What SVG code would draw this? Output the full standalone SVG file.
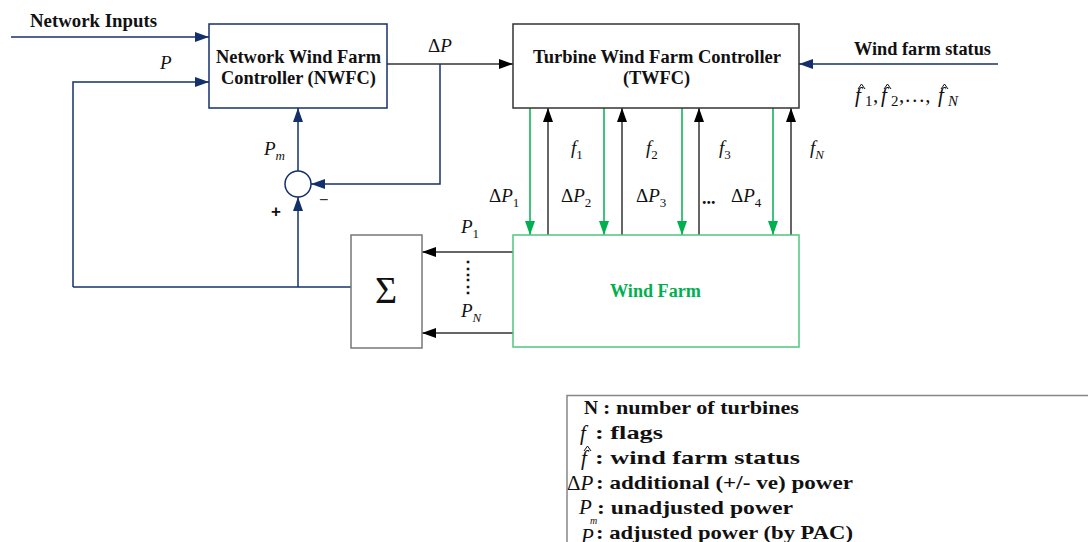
<svg xmlns="http://www.w3.org/2000/svg" width="1088" height="542" viewBox="0 0 1088 542">
<defs>
<style>
.b{font-family:"Liberation Serif",serif;font-weight:bold;font-size:18px;fill:#111}
.m{font-family:"Liberation Serif",serif;font-style:italic;font-size:19px;fill:#111}
.s{font-size:13px;font-style:normal}
.si{font-size:13px;font-style:italic}
.lg{font-family:"Liberation Serif",serif;font-weight:bold;font-size:19.5px;fill:#111}
.nv{stroke:#14306b;stroke-width:1.5;fill:none}
.bk{stroke:#333;stroke-width:1.5;fill:none}
.gr{stroke:#00b050;stroke-width:1.5;fill:none}
.hat{stroke:#111;stroke-width:1;fill:none}
</style>
<marker id="an" markerWidth="14" markerHeight="10" refX="14" refY="5" orient="auto" markerUnits="userSpaceOnUse"><path d="M0,0L14,5L0,10z" fill="#14306b"/></marker>
<marker id="ab" markerWidth="14" markerHeight="10" refX="14" refY="5" orient="auto" markerUnits="userSpaceOnUse"><path d="M0,0L14,5L0,10z" fill="#000"/></marker>
<marker id="ag" markerWidth="14" markerHeight="10" refX="14" refY="5" orient="auto" markerUnits="userSpaceOnUse"><path d="M0,0L14,5L0,10z" fill="#00b050"/></marker>
</defs>
<rect width="1088" height="542" fill="#fff"/>

<g id="connectors">
<path class="nv" d="M11,37H209" marker-end="url(#an)"/>
<path class="nv" d="M73,287V82H209" marker-end="url(#an)"/>
<path class="nv" d="M73,287H351"/>
<path class="nv" d="M298,287V197" marker-end="url(#an)"/>
<path class="nv" d="M298,171V108" marker-end="url(#an)"/>
<path class="nv" d="M440,64V184H311" marker-end="url(#an)"/>
<path class="bk" d="M387,64H513" marker-end="url(#ab)"/>
<path class="nv" d="M998,64H799" marker-end="url(#an)"/>
<path class="gr" d="M530,108V235" marker-end="url(#ag)"/>
<path class="gr" d="M604,108V235" marker-end="url(#ag)"/>
<path class="gr" d="M682,108V235" marker-end="url(#ag)"/>
<path class="gr" d="M773,108V235" marker-end="url(#ag)"/>
<path class="bk" d="M548,235V108" marker-end="url(#ab)"/>
<path class="bk" d="M622,235V108" marker-end="url(#ab)"/>
<path class="bk" d="M699,235V108" marker-end="url(#ab)"/>
<path class="bk" d="M791,235V108" marker-end="url(#ab)"/>
<path class="bk" d="M513,252H422" marker-end="url(#ab)"/>
<path class="bk" d="M513,333H422" marker-end="url(#ab)"/>
</g>

<g id="nwfc">
<rect x="209" y="24" width="178" height="84" fill="#fff" stroke="#14306b" stroke-width="1.5"/>
<text class="b" x="216" y="63" textLength="165" lengthAdjust="spacingAndGlyphs">Network Wind Farm</text>
<text class="b" x="221" y="84" textLength="155" lengthAdjust="spacingAndGlyphs">Controller (NWFC)</text>
</g>

<g id="twfc">
<rect x="513" y="24" width="286" height="84" fill="#fff" stroke="#333" stroke-width="1.5"/>
<text class="b" x="533" y="63" textLength="248" lengthAdjust="spacingAndGlyphs">Turbine Wind Farm Controller</text>
<text class="b" x="623" y="84" textLength="67" lengthAdjust="spacingAndGlyphs">(TWFC)</text>
</g>

<g id="sumjunction">
<circle cx="298" cy="184" r="13" fill="#fff" stroke="#14306b" stroke-width="1.5"/>
<text x="271" y="217" font-family="Liberation Sans,sans-serif" font-size="17" font-weight="bold" fill="#111">+</text>
<text x="319" y="205" font-family="Liberation Sans,sans-serif" font-size="16" fill="#333">−</text>
</g>

<g id="sigma">
<rect x="351" y="235" width="71" height="113" fill="#fff" stroke="#777" stroke-width="1.5"/>
<text x="386" y="303" text-anchor="middle" font-family="Liberation Serif,serif" font-size="38" fill="#111">Σ</text>
</g>

<g id="windfarm">
<rect x="513" y="235" width="286" height="112" fill="#fff" stroke="#4fc77e" stroke-width="1.5"/>
<text class="b" x="610" y="297" textLength="91" lengthAdjust="spacingAndGlyphs" style="fill:#00b050">Wind Farm</text>
</g>

<g id="labels">
<text class="b" x="30" y="27" textLength="127" lengthAdjust="spacingAndGlyphs">Network Inputs</text>
<text class="b" x="854" y="55" textLength="137" lengthAdjust="spacingAndGlyphs">Wind farm status</text>
<text class="m" x="160" y="69">P</text>
<text class="m" x="428" y="52"><tspan style="font-style:normal">Δ</tspan>P</text>
<text class="m" x="264" y="155">P<tspan class="si" dy="5">m</tspan></text>
<text class="m" x="489" y="202"><tspan style="font-style:normal">Δ</tspan>P<tspan class="s" dy="5">1</tspan></text>
<text class="m" x="561" y="202"><tspan style="font-style:normal">Δ</tspan>P<tspan class="s" dy="5">2</tspan></text>
<text class="m" x="636" y="202"><tspan style="font-style:normal">Δ</tspan>P<tspan class="s" dy="5">3</tspan></text>
<text class="b" x="702" y="204">...</text>
<text class="m" x="731" y="202"><tspan style="font-style:normal">Δ</tspan>P<tspan class="s" dy="5">4</tspan></text>
<text class="m" x="571" y="154">f<tspan class="s" dy="5">1</tspan></text>
<text class="m" x="646" y="154">f<tspan class="s" dy="5">2</tspan></text>
<text class="m" x="719" y="154">f<tspan class="s" dy="5">3</tspan></text>
<text class="m" x="810" y="154">f<tspan class="si" dy="5">N</tspan></text>
<text class="m" x="461" y="233">P<tspan class="s" dy="5">1</tspan></text>
<text class="b" x="468" y="274" text-anchor="middle">⋮</text>
<text class="b" x="468" y="292" text-anchor="middle">⋮</text>
<text class="m" x="461" y="317">P<tspan class="si" dy="5">N</tspan></text>
<text class="m" x="855" y="102" style="font-size:21px">f<tspan style="font-size:15px;font-style:normal" x="865" dy="4">1</tspan><tspan x="873" dy="-4" style="font-style:normal">,</tspan><tspan x="881">f</tspan><tspan style="font-size:15px;font-style:normal" x="891" dy="4">2</tspan><tspan x="899" dy="-4" style="font-style:normal">,…,</tspan><tspan x="938">f</tspan><tspan style="font-size:15px" x="948" dy="4">N</tspan></text>
<path class="hat" d="M858,89L861.5,84L865,89M884,89L887.5,84L891,89M941,89L944.5,84L948,89"/>
</g>

<g id="legend">
<path d="M567,542V395.5H1088" fill="none" stroke="#888" stroke-width="1.5"/>
<text class="lg" x="584" y="414">N</text>
<text class="lg" x="603" y="414" textLength="196" lengthAdjust="spacingAndGlyphs">: number of turbines</text>
<text class="m" x="580" y="440" style="font-size:21px">f</text>
<text class="lg" x="595" y="439" textLength="68" lengthAdjust="spacingAndGlyphs">: flags</text>
<text class="m" x="581" y="465" style="font-size:21px">f</text>
<path class="hat" d="M584,451L587.5,446L591,451"/>
<text class="lg" x="595" y="464" textLength="205" lengthAdjust="spacingAndGlyphs">: wind farm status</text>
<text class="m" x="567" y="490" style="font-size:21px"><tspan style="font-style:normal">Δ</tspan>P</text>
<text class="lg" x="596" y="489" textLength="257" lengthAdjust="spacingAndGlyphs">: additional (+/- ve) power</text>
<text class="m" x="579" y="514" style="font-size:21px">P</text>
<text class="m" x="590" y="524" style="font-size:10px">m</text>
<text class="lg" x="597" y="514" textLength="196" lengthAdjust="spacingAndGlyphs">: unadjusted power</text>
<text class="m" x="581" y="543" style="font-size:21px">P</text>
<text class="lg" x="596" y="539" textLength="257" lengthAdjust="spacingAndGlyphs">: adjusted power (by PAC)</text>
</g>
</svg>
